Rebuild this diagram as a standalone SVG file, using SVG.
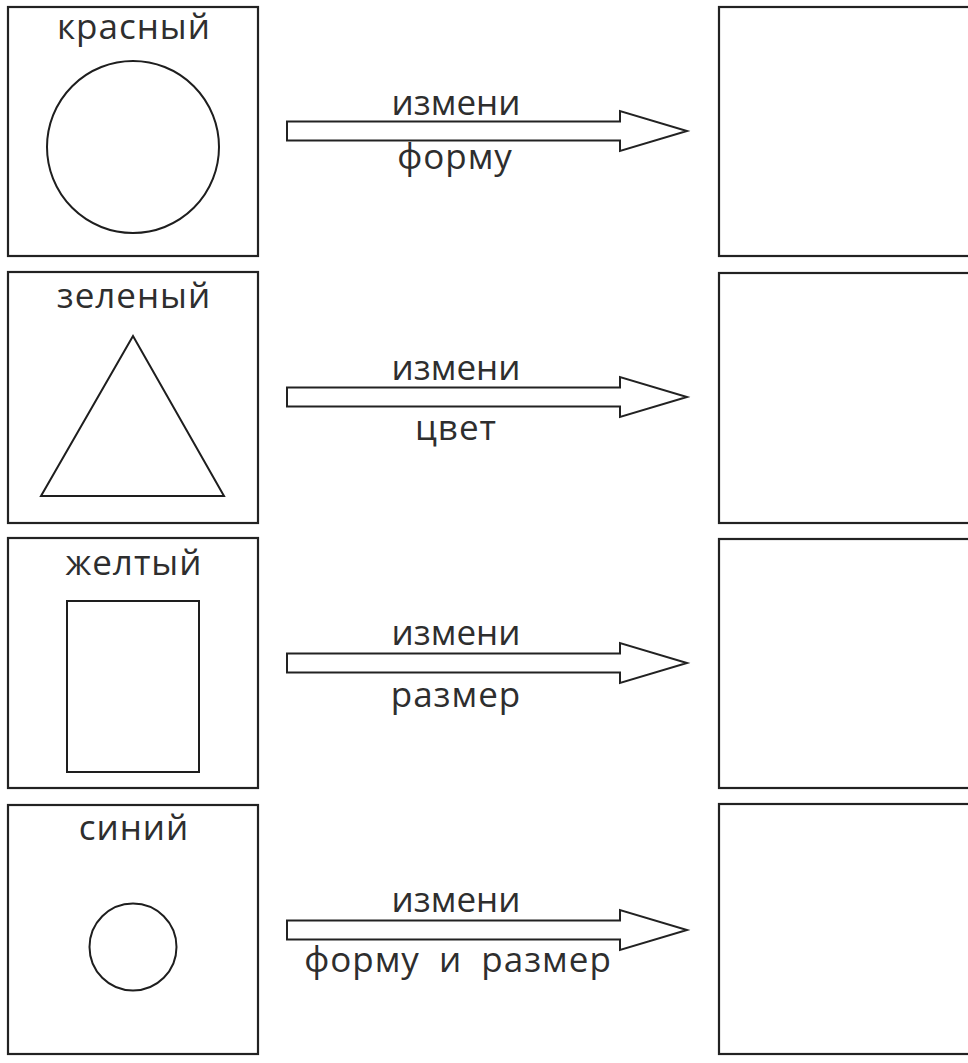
<svg xmlns="http://www.w3.org/2000/svg" width="968" height="1063" viewBox="0 0 968 1063">
<style>
.box{fill:none;stroke:#222;stroke-width:2.2}
.shape{fill:none;stroke:#1e1e1e;stroke-width:2}
.arrow{fill:#fff;stroke:#222;stroke-width:2}
text{font-family:"Open Sans","Noto Sans","DejaVu Sans",sans-serif;font-size:35px;fill:#2e2e2e;text-anchor:middle}
.wide{letter-spacing:1px}
</style>
<defs>
<path id="arr" d="M287,-9.5 L620,-9.5 L620,-20 L687,0 L620,20 L620,9.5 L287,9.5 Z"/>
</defs>
<rect width="968" height="1063" fill="#fff"/>
<g id="src1"><rect class="box" x="8" y="7" width="250" height="249"/><text class="wide" x="134" y="39">красный</text><circle class="shape" cx="133" cy="147" r="86"/></g>
<g id="src2"><rect class="box" x="8" y="272" width="250" height="251"/><text class="wide" x="134" y="308">зеленый</text><polygon class="shape" points="133,336 41,496 224,496"/></g>
<g id="src3"><rect class="box" x="8" y="538" width="250" height="250"/><text class="wide" x="134" y="575">желтый</text><rect class="shape" x="67" y="601" width="132" height="171"/></g>
<g id="src4"><rect class="box" x="8" y="805" width="250" height="249"/><text class="wide" x="134" y="840">синий</text><circle class="shape" cx="133" cy="947" r="43.5"/></g>
<g id="dst1"><rect class="box" x="719" y="7" width="252" height="249"/></g>
<g id="dst2"><rect class="box" x="719" y="273" width="252" height="250"/></g>
<g id="dst3"><rect class="box" x="719" y="539" width="252" height="249"/></g>
<g id="dst4"><rect class="box" x="719" y="804" width="252" height="250"/></g>
<g id="connectors">
<use href="#arr" class="arrow" transform="translate(0,131)"/>
<use href="#arr" class="arrow" transform="translate(0,397)"/>
<use href="#arr" class="arrow" transform="translate(0,663)"/>
<use href="#arr" class="arrow" transform="translate(0,930)"/>
</g>
<g id="labels">
<text x="456" y="115">измени</text><text class="wide" x="455" y="169">форму</text>
<text x="456" y="380">измени</text><text class="wide" x="456" y="440">цвет</text>
<text x="456" y="645">измени</text><text class="wide" x="456" y="707">размер</text>
<text x="456" y="912">измени</text><text class="wide" x="458" y="972" word-spacing="9">форму и размер</text>
</g>
</svg>
